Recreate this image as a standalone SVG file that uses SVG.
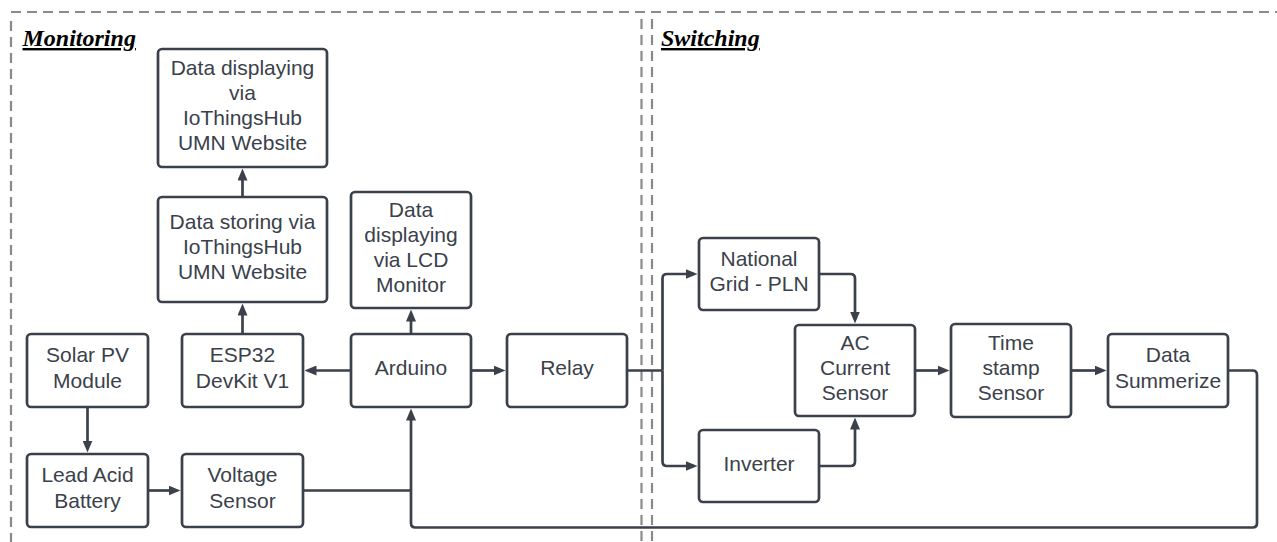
<svg xmlns="http://www.w3.org/2000/svg" width="1277" height="542" viewBox="0 0 1277 542">
  <style>
    .frame { fill: none; stroke: #8a8a8a; stroke-width: 2.2; stroke-dasharray: 10 6; }
    .title { font-family: "Liberation Serif", serif; font-size: 24px; font-weight: bold; font-style: italic; text-decoration: underline; fill: #000; }
    .box { fill: #fff; stroke: #3a414a; stroke-width: 2.7; }
    .lbl { font-family: "Liberation Sans", Arial, sans-serif; font-size: 21px; fill: #3a414a; text-anchor: middle; }
    .wire { fill: none; stroke: #3a414a; stroke-width: 2.7; stroke-linejoin: round; }
    .arrow { marker-end: url(#head); }
  </style>
  <defs>
    <marker id="head" markerUnits="userSpaceOnUse" markerWidth="12" markerHeight="10" viewBox="0 0 12 10" refX="8" refY="5" orient="auto">
      <path d="M0,0 L12,5 L0,10 z" fill="#3a414a"/>
    </marker>
  </defs>

  <rect width="1277" height="542" fill="#fff"/>

  <!-- section frames -->
  <g id="frames">
    <path class="frame" d="M11,12 H1277"/>
    <path class="frame" d="M11,21 V542"/>
    <path class="frame" d="M641.5,19 V542"/>
    <path class="frame" d="M652,19 V542"/>
    <text class="title" x="22.5" y="46">Monitoring</text>
    <text class="title" x="661" y="46">Switching</text>
  </g>

  <!-- connectors -->
  <g id="connectors">
    <path class="wire arrow" d="M242.5,197 V172.5"/>
    <path class="wire arrow" d="M242.5,334 V307.5"/>
    <path class="wire arrow" d="M411,334 V313.5"/>
    <path class="wire arrow" d="M351,370.5 H308.5"/>
    <path class="wire arrow" d="M471,370.5 H501.5"/>
    <path class="wire arrow" d="M87.5,407 V448.5"/>
    <path class="wire arrow" d="M148,490.5 H176.5"/>
    <path class="wire" d="M303,490.5 H411"/>
    <path class="wire arrow" d="M1228,370.5 H1252.5 Q1257,370.5 1257,375 V523 Q1257,527.5 1252.5,527.5 H415.5 Q411,527.5 411,523 V412.5"/>
    <path class="wire" d="M627,370.5 H662.5"/>
    <path class="wire arrow" d="M662.5,370.5 V278.5 Q662.5,274 667,274 H693.5"/>
    <path class="wire arrow" d="M662.5,370.5 V461.5 Q662.5,466 667,466 H693.5"/>
    <path class="wire arrow" d="M819,274 H850.5 Q855,274 855,278.5 V319.5"/>
    <path class="wire arrow" d="M819,466 H850.5 Q855,466 855,461.5 V421.5"/>
    <path class="wire arrow" d="M915,370.5 H945.5"/>
    <path class="wire arrow" d="M1071,370.5 H1102.5"/>
  </g>

  <!-- nodes -->
  <g id="web-display">
    <rect class="box" x="158" y="49" width="169" height="118" rx="4"/>
    <text class="lbl" x="242.5" y="74.5">Data displaying<tspan x="242.5" dy="25.3">via</tspan><tspan x="242.5" dy="25.3">IoThingsHub</tspan><tspan x="242.5" dy="25.3">UMN Website</tspan></text>
  </g>
  <g id="web-storage">
    <rect class="box" x="158" y="197" width="169" height="105" rx="4"/>
    <text class="lbl" x="242.5" y="228.7">Data storing via<tspan x="242.5" dy="25.3">IoThingsHub</tspan><tspan x="242.5" dy="25.3">UMN Website</tspan></text>
  </g>
  <g id="lcd-display">
    <rect class="box" x="351" y="192" width="120" height="116" rx="4"/>
    <text class="lbl" x="411" y="216.5">Data<tspan x="411" dy="25.3">displaying</tspan><tspan x="411" dy="25.3">via LCD</tspan><tspan x="411" dy="25.3">Monitor</tspan></text>
  </g>
  <g id="arduino">
    <rect class="box" x="351" y="334" width="120" height="73" rx="4"/>
    <text class="lbl" x="411" y="375">Arduino</text>
  </g>
  <g id="relay">
    <rect class="box" x="507" y="334" width="120" height="73" rx="4"/>
    <text class="lbl" x="567" y="375">Relay</text>
  </g>
  <g id="esp32">
    <rect class="box" x="182" y="334" width="121" height="73" rx="4"/>
    <text class="lbl" x="242.5" y="362.4">ESP32<tspan x="242.5" dy="25.3">DevKit V1</tspan></text>
  </g>
  <g id="solar-pv">
    <rect class="box" x="27" y="334" width="121" height="73" rx="4"/>
    <text class="lbl" x="87.5" y="362.4">Solar PV<tspan x="87.5" dy="25.3">Module</tspan></text>
  </g>
  <g id="battery">
    <rect class="box" x="27" y="454" width="121" height="73" rx="4"/>
    <text class="lbl" x="87.5" y="482.4">Lead Acid<tspan x="87.5" dy="25.3">Battery</tspan></text>
  </g>
  <g id="voltage-sensor">
    <rect class="box" x="182" y="454" width="121" height="73" rx="4"/>
    <text class="lbl" x="242.5" y="482.4">Voltage<tspan x="242.5" dy="25.3">Sensor</tspan></text>
  </g>
  <g id="national-grid">
    <rect class="box" x="699" y="238" width="120" height="72" rx="4"/>
    <text class="lbl" x="759" y="265.9">National<tspan x="759" dy="25.3">Grid - PLN</tspan></text>
  </g>
  <g id="ac-sensor">
    <rect class="box" x="795" y="325" width="120" height="91" rx="4"/>
    <text class="lbl" x="855" y="349.7">AC<tspan x="855" dy="25.3">Current</tspan><tspan x="855" dy="25.3">Sensor</tspan></text>
  </g>
  <g id="inverter">
    <rect class="box" x="699" y="430" width="120" height="72" rx="4"/>
    <text class="lbl" x="759" y="470.5">Inverter</text>
  </g>
  <g id="timestamp">
    <rect class="box" x="951" y="324" width="120" height="93" rx="4"/>
    <text class="lbl" x="1011" y="349.7">Time<tspan x="1011" dy="25.3">stamp</tspan><tspan x="1011" dy="25.3">Sensor</tspan></text>
  </g>
  <g id="summarize">
    <rect class="box" x="1108" y="334" width="120" height="73" rx="4"/>
    <text class="lbl" x="1168" y="362.4">Data<tspan x="1168" dy="25.3">Summerize</tspan></text>
  </g>
</svg>
